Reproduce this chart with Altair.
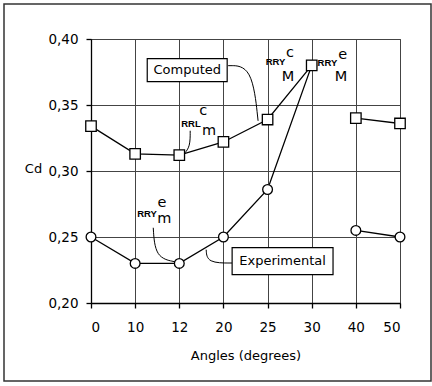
import altair as alt
import pandas as pd

# Angle categories (evenly spaced on the axis) and drag coefficients
angles = ["0", "10", "12", "20", "25", "30", "40", "50"]
computed = [0.334, 0.313, 0.312, 0.322, 0.339, 0.380, 0.340, 0.336]
experimental = [0.250, 0.230, 0.230, 0.250, 0.286, 0.380, 0.255, 0.250]
# the measurement campaign has a gap between 30 and 40 degrees
segment = ["a", "a", "a", "a", "a", "a", "b", "b"]

FONT = "DejaVu Sans"
W, H = 309, 264

rows = []
for i, a in enumerate(angles):
    rows.append({"idx": i, "angle": a, "cd": computed[i], "series": "Computed", "seg": segment[i]})
    rows.append({"idx": i, "angle": a, "cd": experimental[i], "series": "Experimental", "seg": segment[i]})
df = pd.DataFrame(rows)

# Callout boxes (in axis units: category index, Cd)
box_text = ["Computed", "Experimental"]
box_x1 = [1.274, 3.197]
box_x2 = [3.085, 5.483]
box_y1 = [0.3851, 0.2419]
box_y2 = [0.3677, 0.2215]
boxes = pd.DataFrame({
    "text": box_text, "x1": box_x1, "x2": box_x2, "y1": box_y1, "y2": box_y2,
    "xc": [(a + b) / 2 for a, b in zip(box_x1, box_x2)],
    "yc": [(a + b) / 2 for a, b in zip(box_y1, box_y2)],
})

# Leader curves: start, control, end
leader_id = ["comp"] * 3 + ["cm"] * 3 + ["em"] * 3 + ["exp"] * 3
leader_x = [3.107, 3.650, 3.785, 2.247, 2.247, 2.111, 1.410, 1.455, 1.908, 3.197, 2.631, 2.609]
leader_y = [0.3798, 0.3798, 0.3380, 0.3305, 0.3184, 0.3131, 0.2570, 0.2343, 0.2312, 0.2303, 0.2303, 0.2404]
leaders = pd.DataFrame({"id": leader_id, "x": leader_x, "y": leader_y,
                        "k": [0, 1, 2] * 4})

# Coefficient symbols, then their super/subscript letters
sym_text = ["RRL", "RRY", "RRY", "RRY"]
sym_x = [2.265, 4.180, 5.355, 1.270]
sym_y = [0.3358, 0.3824, 0.3820, 0.2677]
syms = pd.DataFrame({"t": sym_text, "x": sym_x, "y": sym_y})

idx_text = ["c", "m", "c", "M", "e", "M", "e", "m"]
idx_x = [2.541, 2.677, 4.510, 4.465, 5.700, 5.664, 1.610, 1.659]
idx_y = [0.3453, 0.3305, 0.3892, 0.3714, 0.3881, 0.3714, 0.2756, 0.2639]
idxs = pd.DataFrame({"t": idx_text, "x": idx_x, "y": idx_y})

label_expr = "[" + ",".join("'%s'" % a for a in angles) + "][datum.value]"

xs = alt.Scale(domain=[0, 7], nice=False, zero=False)
ys = alt.Scale(domain=[0.20, 0.40], nice=False, zero=False)

x_enc = alt.X("idx:Q", scale=xs, axis=alt.Axis(
    values=list(range(len(angles))), labelExpr=label_expr,
    title="Angles (degrees)", titleY=52, titleBaseline="middle",
    labelPadding=12, tickSize=5, grid=True))
y_enc = alt.Y("cd:Q", scale=ys, axis=alt.Axis(
    values=[0.20, 0.25, 0.30, 0.35, 0.40],
    labelExpr="replace(format(datum.value, '.2f'), '.', ',')",
    title="Cd", titleAngle=0, titleX=-58, titleY=129,
    titleAlign="center", titleBaseline="middle",
    labelPadding=8, tickSize=5, grid=True))

base = alt.Chart(df)

frame = alt.Chart(alt.Data(values=[{}])).mark_rect(
    fill="transparent", stroke="#333", strokeWidth=1.5
).encode(x=alt.value(-87), x2=alt.value(340), y=alt.value(-35), y2=alt.value(342))

lines = base.mark_line(color="black", strokeWidth=1.3).encode(
    x=x_enc, y=y_enc, detail=["series:N", "seg:N"], order="idx:Q")

leader_lines = alt.Chart(leaders).mark_line(
    color="black", strokeWidth=1, interpolate="basis"
).encode(x=alt.X("x:Q", scale=xs), y=alt.Y("y:Q", scale=ys),
         detail="id:N", order="k:Q")

exp_pts = base.transform_filter(alt.datum.series == "Experimental").mark_point(
    shape="circle", size=95, filled=True, fill="white", opacity=1,
    stroke="black", strokeWidth=1.3
).encode(x=alt.X("idx:Q", scale=xs), y=alt.Y("cd:Q", scale=ys))

comp_pts = base.transform_filter(alt.datum.series == "Computed").mark_point(
    shape="square", size=110, filled=True, fill="white", opacity=1,
    stroke="black", strokeWidth=1.3
).encode(x=alt.X("idx:Q", scale=xs), y=alt.Y("cd:Q", scale=ys))

box_rects = alt.Chart(boxes).mark_rect(
    fill="white", stroke="black", strokeWidth=1.2
).encode(x=alt.X("x1:Q", scale=xs), x2="x2:Q", y=alt.Y("y1:Q", scale=ys), y2="y2:Q")

box_labels = alt.Chart(boxes).mark_text(
    font=FONT, fontSize=13, color="black", align="center", baseline="middle"
).encode(x=alt.X("xc:Q", scale=xs), y=alt.Y("yc:Q", scale=ys), text="text:N")

sym_labels = alt.Chart(syms).mark_text(
    font="Liberation Sans", fontSize=9.5, fontWeight="bold",
    color="black", align="center", baseline="middle"
).encode(x=alt.X("x:Q", scale=xs), y=alt.Y("y:Q", scale=ys), text="t:N")

idx_labels = alt.Chart(idxs).mark_text(
    font=FONT, fontSize=14.5, color="black", align="center", baseline="middle"
).encode(x=alt.X("x:Q", scale=xs), y=alt.Y("y:Q", scale=ys), text="t:N")

chart = alt.layer(
    frame, lines, leader_lines, exp_pts, comp_pts, box_rects, box_labels,
    sym_labels, idx_labels
).properties(
    width=W, height=H,
    autosize=alt.AutoSizeParams(type="none"),
    padding={"left": 91, "top": 39, "right": 32, "bottom": 83},
    background="white",
).configure_view(
    stroke="#444", strokeWidth=1
).configure_axis(
    labelFont=FONT, titleFont=FONT, labelFontSize=13.5, titleFontSize=13,
    titleFontWeight="normal", labelColor="black", titleColor="black",
    domainColor="black", tickColor="black", domainWidth=1.3, tickWidth=1.3,
    gridColor="#444", gridWidth=1, gridOpacity=1,
)

chart.save("out.html", embed_options={"renderer": "svg", "actions": False})
